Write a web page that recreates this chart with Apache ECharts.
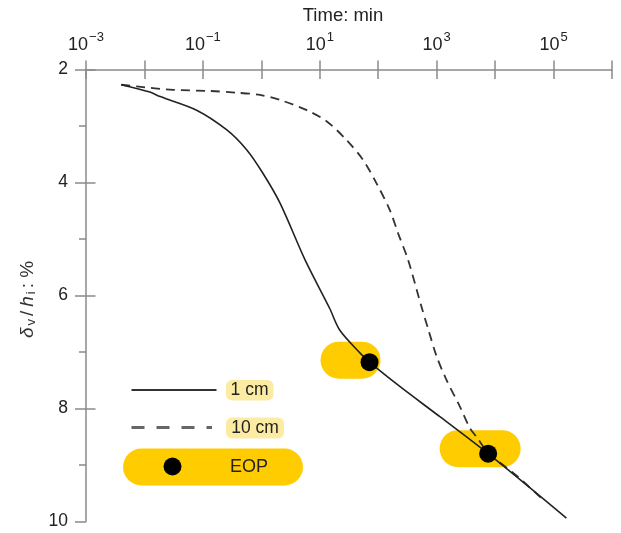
<!DOCTYPE html>
<html>
<head>
<meta charset="utf-8">
<script src="https://cdn.jsdelivr.net/npm/echarts@6/dist/echarts.min.js"></script>
<style>
html,body{margin:0;padding:0;background:#fff;}
#chart{width:621px;height:533px;}
</style>
</head>
<body>
<div id="chart"></div>
<script>
// ---- data (time in min, strain in %) ----
var time1cm   = [0.0040, 0.0124, 0.0186, 0.078, 0.257, 0.56, 1.07, 2.1, 5.6, 14.8, 21.9, 49, 71, 234, 1150, 7600, 166000];
var strain1cm = [2.27,   2.40,   2.48,   2.72,  3.07,  3.42, 3.84, 4.37, 5.37, 6.23, 6.61, 7.02, 7.18, 7.61, 8.15, 8.80, 9.94];

var time10cm   = [0.0040, 0.0074, 0.031, 0.132, 0.38, 0.95, 2.1, 6.0, 13.2, 28.8, 55, 93, 158, 219, 324, 550, 724, 1000, 1480, 2510, 3720, 4790, 7600, 23400, 70000];
var strain10cm = [2.27,   2.30,   2.36,  2.38,  2.41, 2.45, 2.54, 2.72, 2.92, 3.25, 3.60, 4.01, 4.49, 4.90, 5.37, 6.20, 6.61, 7.08, 7.50, 7.97, 8.35, 8.50, 8.78, 9.19, 9.64];

var eopTime   = [71, 7600];
var eopStrain = [7.18, 8.80];

var xTickExponents = [-3, -1, 1, 3, 5];
var yTicks = [2, 4, 6, 8, 10];
var legendLabels = ['1 cm', '10 cm', 'EOP'];

// ---- chart ----
var FONT = 'Liberation Sans, Arial, Helvetica, sans-serif';
var AXIS_COLOR = '#8a8a8a';
var TEXT_COLOR = '#222';

function zip(a, b) { return a.map(function (v, i) { return [v, b[i]]; }); }

function pillPath(w, h) {
  var r = h / 2;
  return 'path://M' + r + ' 0 L' + (w - r) + ' 0 A' + r + ' ' + r + ' 0 0 1 ' + (w - r) + ' ' + h +
    ' L' + r + ' ' + h + ' A' + r + ' ' + r + ' 0 0 1 ' + r + ' 0 Z';
}

var pillStyles = [
  { size: [60, 37], offset: [-19, -2] },
  { size: [81, 37], offset: [-8, -5] }
];

var chart = echarts.init(document.getElementById('chart'), null, { renderer: 'canvas' });

var xCommon = {
  type: 'log', logBase: 10, min: 0.001, max: 1e6, interval: 1,
  position: 'top', splitLine: { show: false }
};

var option = {
  animation: false,
  backgroundColor: '#fff',
  textStyle: { fontFamily: FONT },
  grid: { left: 86, top: 69.5, right: 9, bottom: 11.5, containLabel: false, outerBoundsMode: 'none' },
  xAxis: [
    Object.assign({}, xCommon, {
      name: 'Time: min',
      nameLocation: 'middle',
      nameGap: 43.5,
      nameTextStyle: { fontSize: 18.5, color: TEXT_COLOR, fontFamily: FONT, padding: [0, 12, 0, 0] },
      axisLine: { show: true, onZero: false, lineStyle: { color: AXIS_COLOR, width: 1.5 } },
      axisTick: { show: true, inside: false, length: 9, lineStyle: { color: AXIS_COLOR, width: 1.5 } },
      axisLabel: {
        show: true, margin: 15,
        formatter: function (v) {
          var e = Math.round(Math.log10(v));
          if (xTickExponents.indexOf(e) < 0) return '';
          return '{b|10}{s|' + (e < 0 ? '\u2212' + (-e) : e) + '}';
        },
        rich: {
          b: { fontSize: 18, color: TEXT_COLOR, fontFamily: FONT, verticalAlign: 'bottom', lineHeight: 24 },
          s: { fontSize: 13, color: TEXT_COLOR, fontFamily: FONT, verticalAlign: 'top', padding: [0, 0, 0, 1] }
        }
      }
    }),
    Object.assign({}, xCommon, {
      axisLine: { show: false, onZero: false },
      axisTick: { show: true, inside: true, length: 9.5, lineStyle: { color: AXIS_COLOR, width: 1.5 } },
      axisLabel: { show: false }
    })
  ],
  yAxis: [
    {
      type: 'value', inverse: true, min: 2, max: 10, interval: 2, position: 'left',
      splitLine: { show: false },
      name: '{i|\u03b4}{sub|v}{n|/}{i|h}{sub|i}{n|: %}',
      nameLocation: 'middle', nameRotate: 90, nameGap: 42,
      nameTextStyle: {
        padding: [0, 8, 0, 0],
        rich: {
          i: { fontSize: 19, fontStyle: 'italic', color: '#333', fontFamily: FONT, padding: [0, 2, 0, 2] },
          n: { fontSize: 19, color: '#333', fontFamily: FONT, padding: [0, 2, 0, 2] },
          sub: { fontSize: 13, color: '#333', fontFamily: FONT, verticalAlign: 'bottom', padding: [7, 1, 0, 0] }
        }
      },
      axisLine: { show: true, onZero: false, lineStyle: { color: AXIS_COLOR, width: 1.5 } },
      axisTick: { show: true, inside: false, length: 11, lineStyle: { color: AXIS_COLOR, width: 1.5 } },
      minorTick: { show: true, splitNumber: 2, length: 7, lineStyle: { color: AXIS_COLOR, width: 1.5 } },
      axisLabel: {
        margin: 18, fontSize: 17.5, color: TEXT_COLOR, fontFamily: FONT,
        formatter: function (v) { return yTicks.indexOf(v) >= 0 ? String(v) : ''; }
      }
    },
    {
      type: 'value', inverse: true, min: 2, max: 10, interval: 2, position: 'left',
      splitLine: { show: false },
      axisLine: { show: false, onZero: false },
      axisTick: { show: true, inside: true, length: 9.5, customValues: [2, 4, 6, 8], lineStyle: { color: AXIS_COLOR, width: 1.5 } },
      axisLabel: { show: false }
    }
  ],
  series: [
    {
      name: 'EOP band', type: 'scatter', z: 1, silent: true,
      data: eopTime.map(function (t, i) {
        var p = pillStyles[i];
        return {
          value: [t, eopStrain[i]],
          symbol: pillPath(p.size[0], p.size[1]),
          symbolSize: p.size,
          symbolOffset: p.offset,
          itemStyle: { color: '#FFCC00', opacity: 1 }
        };
      })
    },
    {
      name: legendLabels[0], type: 'line', z: 3, symbol: 'none', smooth: 0.3,
      data: zip(time1cm, strain1cm),
      lineStyle: { color: '#222', width: 1.6 }
    },
    {
      name: legendLabels[1], type: 'line', z: 2, symbol: 'none', smooth: 0.3,
      data: zip(time10cm, strain10cm),
      lineStyle: { color: '#333', width: 1.8, type: [9, 6] }
    },
    {
      name: legendLabels[2], type: 'scatter', z: 4, symbol: 'circle', symbolSize: 18,
      data: zip(eopTime, eopStrain),
      itemStyle: { color: '#000', opacity: 1 }
    }
  ],
  graphic: [
    { type: 'line', shape: { x1: 131.5, y1: 390, x2: 216.5, y2: 390 }, style: { stroke: '#333', lineWidth: 2 } },
    { type: 'line', shape: { x1: 131.5, y1: 427.5, x2: 212, y2: 427.5 }, style: { stroke: '#666', lineWidth: 3, lineDash: [13, 12] } },
    { type: 'rect', shape: { x: 226, y: 380, width: 47.5, height: 20.5, r: 6 }, style: { fill: '#FCEBA3' } },
    { type: 'text', x: 249.5, y: 390.5, style: { text: legendLabels[0], fontSize: 17.5, fontFamily: FONT, fill: TEXT_COLOR, align: 'center', verticalAlign: 'middle' } },
    { type: 'rect', shape: { x: 226, y: 417.5, width: 58, height: 21, r: 6 }, style: { fill: '#FCEBA3' } },
    { type: 'text', x: 255, y: 428.5, style: { text: legendLabels[1], fontSize: 17.5, fontFamily: FONT, fill: TEXT_COLOR, align: 'center', verticalAlign: 'middle' } },
    { type: 'rect', shape: { x: 123, y: 448.5, width: 180, height: 37, r: 18.5 }, style: { fill: '#FFCC00' } },
    { type: 'circle', shape: { cx: 172.5, cy: 466.5, r: 9 }, style: { fill: '#000' } },
    { type: 'text', x: 249, y: 467.5, style: { text: legendLabels[2], fontSize: 18, fontFamily: FONT, fill: TEXT_COLOR, align: 'center', verticalAlign: 'middle' } }
  ]
};

chart.setOption(option);
</script>
</body>
</html>
